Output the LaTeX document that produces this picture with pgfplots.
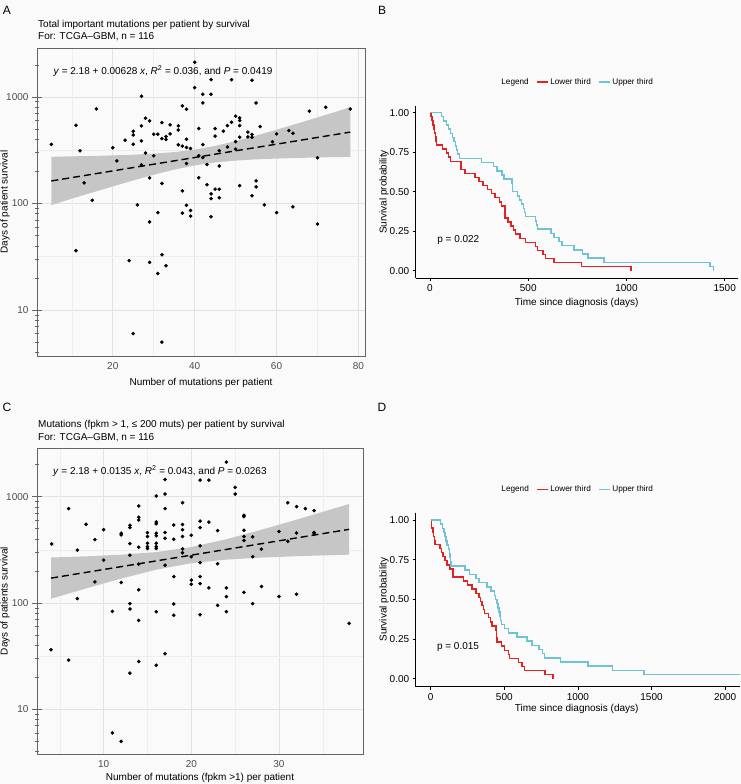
\documentclass[border=0pt]{standalone}
\usepackage{pgfplots}
\pgfplotsset{compat=1.18}
\usepackage{fontspec}
\setmainfont{Liberation Sans}
\definecolor{bgcol}{RGB}{250,250,250}
\definecolor{gridmaj}{RGB}{226,226,226}
\definecolor{gridmin}{RGB}{238,238,238}
\definecolor{boxcol}{RGB}{100,100,100}
\definecolor{ribcol}{RGB}{198,198,198}
\definecolor{kmred}{RGB}{226,34,34}
\definecolor{kmblue}{RGB}{110,194,212}
\definecolor{ticklab}{RGB}{77,77,77}
\newcommand{\fs}[1]{\fontsize{#1}{#1}\selectfont}
\begin{document}
\begin{tikzpicture}
\fill[bgcol] (0pt,0pt) rectangle (741pt,784pt);

% ---------------- Panel A ----------------
\begin{axis}[ymode=log, scale only axis, anchor=south west,
  at={(37pt,428pt)}, width=328pt, height=308pt,
  xmin=1.5, xmax=81.6, ymin=3.7, ymax=2880,
  axis background/.style={fill=bgcol},
  axis line style={draw=boxcol, line width=0.8pt},
  grid=major, major grid style={gridmaj, line width=0.6pt},
  xtick pos=left, ytick pos=left,
  /pgf/number format/assume math mode=true,
  tick label style={font=\fs{10}, text=ticklab},
  xtick style={draw=none},
  ytick style={boxcol, line width=0.6pt},
  tick align=center, major tick length=10pt, minor tick length=4pt,
  ytick={10,100,1000}, yticklabels={10,100,1000},
  minor ytick={4,5,6,7,8,9,20,30,40,50,60,70,80,90,200,300,400,500,600,700,800,900,2000},
  extra y ticks={3.1623,31.623,316.23}, extra y tick labels={},
  extra y tick style={grid=major, major grid style={gridmin, line width=0.5pt}, major tick length=0pt},
  xtick={20,40,60,80}, xticklabels={20,40,60,80},
  extra x ticks={10,30,50,70}, extra x tick labels={},
  extra x tick style={grid=major, major grid style={gridmin, line width=0.5pt}},
  xticklabel style={yshift=2pt}]
\addplot[fill=ribcol, draw=none] coordinates {
 (5,274) (10,277) (15,279) (20,282.6) (25,287) (30,293.5) (35,303.4) (40,320) (45,347) (50,385) (55,433.5) (60,492) (65,561.4) (70,642) (78,799)
 (78,273.7) (70,270.2) (65,267.4) (60,263.9) (55,259.3) (50,252.7) (45,242.5) (40,227.5) (35,207.7) (30,186) (25,164.5) (20,144.6) (15,126.6) (10,111) (5,96.4)};
\addplot[only marks, mark=*, mark size=1.6pt, black] coordinates {
(40,2115) (44,1453) (49,1453) (54,1433) (40,1223) (42,1059) (44,1059) (27,1015) (42,878) (55,878) (37,824) (38,766) (16,772) (68,735) (72,800) (78,772) (50,660) (51,636) (51,600) (28,631) (29,596) (11,542) (32,574) (34,547) (36,535) (27,535) (49,579) (48,538) (51,538) (56,527) (36,489) (41,505) (45,505) (47,477) (25,477) (30,447) (31,447) (34,450) (33,425) (32,406) (33,398) (25,440) (45,428) (51,419) (53,467) (54,444) (54,419) (53,422) (60,450) (63,483) (64,456) (38,401) (27,387) (23,393) (5,359) (36,355) (37,345) (38,335) (39,328) (42,357) (50,380) (59,379) (25,359) (48,339) (20,333) (12,312) (28,297) (50,324) (46,312) (30,280) (41,280) (42,270) (70,268) (21,251) (38,237) (43,232) (27,230) (46,225) (29,174) (41,174) (13,156) (32,154) (51,147) (55,163) (55,143) (43,150) (37,131)
(15,107) (44,123) (45,136) (46,136) (44,111) (46,113) (54,118) (26,97) (31,82) (38,96) (39,86) (37,81) (39,76) (44,75) (57,97) (60,82) (64,93) (70,64) (29,67) (11,36) (24,29) (29,28) (32,33) (33,26) (31,22) (25,6) (32,5)};
\addplot[black, line width=1.4pt, dash pattern=on 7pt off 4pt] coordinates {(5,162.7) (78,467.5)};
\end{axis}

% ---------------- Panel C ----------------
\begin{axis}[ymode=log, scale only axis, anchor=south west,
  at={(37pt,30pt)}, width=326.6pt, height=306pt,
  xmin=2.4, xmax=39.65, ymin=3.8, ymax=2870,
  axis background/.style={fill=bgcol},
  axis line style={draw=boxcol, line width=0.8pt},
  grid=major, major grid style={gridmaj, line width=0.6pt},
  xtick pos=left, ytick pos=left,
  /pgf/number format/assume math mode=true,
  tick label style={font=\fs{10}, text=ticklab},
  xtick style={draw=none},
  ytick style={boxcol, line width=0.6pt},
  tick align=center, major tick length=10pt, minor tick length=4pt,
  ytick={10,100,1000}, yticklabels={10,100,1000},
  minor ytick={4,5,6,7,8,9,20,30,40,50,60,70,80,90,200,300,400,500,600,700,800,900,2000},
  extra y ticks={3.1623,31.623,316.23}, extra y tick labels={},
  extra y tick style={grid=major, major grid style={gridmin, line width=0.5pt}, major tick length=0pt},
  xtick={10,20,30}, xticklabels={10,20,30},
  extra x ticks={5,15,25,35}, extra x tick labels={},
  extra x tick style={grid=major, major grid style={gridmin, line width=0.5pt}},
  xticklabel style={yshift=2pt}]
\addplot[fill=ribcol, draw=none] coordinates {
 (4,267.8) (8,274.8) (12,284.6) (16,301.2) (20,335.7) (24,397.9) (28,488.6) (32,608) (36,762) (38,854)
 (38,284.8) (36,281.9) (32,275.4) (28,267.4) (24,256.0) (20,236.7) (16,205.6) (12,169.8) (8,137.1) (4,109.7)};
\addplot[only marks, mark=*, mark size=1.6pt, black] coordinates {
(24,2115) (17,1453) (21,1433) (22,1433) (25,1223) (25,1059) (16,1015) (17,1059) (6,772) (14,817) (19,878) (17,772) (31,878) (32,806) (33,772) (34,739) (26,668) (26,649) (14,640) (14,603) (21,589) (22,577) (16,577) (16,555) (8,550) (18,542) (19,547) (13,538) (13,512) (21,512) (19,489) (23,480) (10,489) (26,483) (12,453) (12,437) (15,459) (15,422) (16,453) (16,428) (17,460) (19,422) (20,434) (17,406) (18,398) (30,470) (32,456) (31,380) (34,460) (34,447) (26,422) (26,387) (27,419) (9,395) (4.07,359) (13,362) (14,335) (15,365) (15,339) (15,325) (16,365) (16,339) (16,325) (21,345) (19,323) (19,297) (7,314) (28,321) (20,272) (27,272) (13,282) (10,253) (21,240) (23,234) (14,232) (17,227) (18,177) (21,177) (9,158) (12,156) (20,164) (20,150) (21,152) (14,133) (22,139) (24,139) (26,126) (28,143) (30,115) (32,121) (7,110) (24,115)
(13,98.6) (13,87.8) (11,83.4) (16,82.8) (18,98) (18,76.6) (14,68.6) (21,77.6) (23,95) (24,82.8) (27,98.6) (38,64.3) (4,36.3) (6,29) (17,33.3) (14,28.2) (16,26) (13,21.9) (11,6) (12,5)};
\addplot[black, line width=1.4pt, dash pattern=on 7pt off 4pt] coordinates {(4,171.4) (38,493)};
\end{axis}

% panel frames of A and C
\draw[boxcol, line width=0.8pt] (37pt,428pt) rectangle (365pt,736pt);
\draw[boxcol, line width=0.8pt] (37pt,30pt) rectangle (363.6pt,336pt);

% ---------------- Panel B ----------------
\begin{axis}[scale only axis, anchor=south west,
  at={(415.7pt,506pt)}, width=322.3pt, height=172pt,
  xmin=-72.7, xmax=1567.7, ymin=-0.046, ymax=1.042,
  axis lines=left, axis line style={-, black, line width=0.7pt},
  tick align=outside, major tick length=3pt,
  tick style={black, line width=0.7pt},
  /pgf/number format/assume math mode=true,
  tick label style={font=\fs{10}, text=black},
  ytick={0,0.25,0.5,0.75,1}, yticklabels={0.00,0.25,0.50,0.75,1.00},
  xtick={0,500,1000,1500}, xticklabels={0,500,1000,1500},
  legend columns=-1,
  legend style={draw=none, fill=none, font=\fs{8.2}, anchor=center,
    at={(rel axis cs:0.501,1.14)},
    /tikz/every even column/.append style={column sep=5pt}},
  legend image code/.code={\draw[#1] (0pt,0pt) -- (11pt,0pt);}]
\addlegendimage{legend image code/.code={}}
\addlegendentry{Legend}
\addplot[const plot, kmred, line width=1.5pt] coordinates {
(0,1.0) (5,0.974) (10,0.949) (15,0.923) (20,0.897) (24,0.872) (28,0.846) (31,0.821) (34,0.795) (64,0.769) (85,0.744) (95,0.718) (105,0.692) (158,0.641) (178,0.615) (229,0.590) (249,0.564) (271,0.538) (292,0.513) (312,0.487) (332,0.462) (353,0.436) (363,0.410) (383,0.333) (398,0.308) (412,0.282) (424,0.256) (434,0.231) (458,0.205) (486,0.179) (537,0.154) (547,0.128) (576,0.103) (588,0.077) (631,0.051) (770,0.026) (1024,0.026) (1024,0.0)};
\addlegendentry{Lower third}
\addplot[const plot, kmblue, line width=1.5pt] coordinates {
(0,1.0) (59,0.974) (69,0.947) (85,0.921) (95,0.895) (105,0.868) (115,0.842) (122,0.816) (129,0.789) (136,0.763) (141,0.737) (149,0.711) (263,0.684) (322,0.658) (341,0.632) (366,0.605) (376,0.579) (417,0.553) (420,0.5) (446,0.474) (456,0.447) (466,0.421) (476,0.395) (481,0.368) (486,0.342) (536,0.316) (541,0.289) (546,0.263) (615,0.237) (632,0.211) (656,0.184) (673,0.158) (734,0.132) (775,0.105) (805,0.079) (885,0.053) (1424,0.026) (1444,0.026) (1444,0.0)};
\addlegendentry{Upper third}
\end{axis}

% ---------------- Panel D ----------------
\begin{axis}[scale only axis, anchor=south west,
  at={(415.7pt,97.3pt)}, width=324.3pt, height=174pt,
  xmin=-101.9, xmax=2101, ymin=-0.05, ymax=1.046,
  axis lines=left, axis line style={-, black, line width=0.7pt},
  tick align=outside, major tick length=3pt,
  tick style={black, line width=0.7pt},
  /pgf/number format/assume math mode=true,
  tick label style={font=\fs{10}, text=black},
  ytick={0,0.25,0.5,0.75,1}, yticklabels={0.00,0.25,0.50,0.75,1.00},
  xtick={0,500,1000,1500,2000}, xticklabels={0,500,1000,1500,2000},
  legend columns=-1,
  legend style={draw=none, fill=none, font=\fs{8.2}, anchor=center,
    at={(rel axis cs:0.498,1.134)},
    /tikz/every even column/.append style={column sep=5pt}},
  legend image code/.code={\draw[#1] (0pt,0pt) -- (11pt,0pt);}]
\addlegendimage{legend image code/.code={}}
\addlegendentry{Legend}
\addplot[const plot, kmred, line width=1.5pt] coordinates {
(0,1.0) (5,0.974) (7,0.949) (14,0.923) (18,0.897) (25,0.872) (30,0.846) (64,0.821) (75,0.795) (84,0.769) (98,0.744) (109,0.718) (132,0.692) (150,0.641) (223,0.615) (250,0.590) (280,0.564) (309,0.538) (327,0.513) (338,0.487) (348,0.462) (358,0.436) (366,0.410) (393,0.385) (405,0.359) (416,0.333) (443,0.308) (447,0.282) (448,0.256) (450,0.231) (480,0.205) (500,0.179) (530,0.154) (536,0.128) (595,0.103) (620,0.077) (636,0.051) (775,0.026) (832,0.026) (832,0.0)};
\addlegendentry{Lower third}
\addplot[const plot, kmblue, line width=1.5pt] coordinates {
(0,1.0) (68,0.974) (80,0.947) (90,0.921) (98,0.895) (105,0.868) (112,0.842) (120,0.816) (126,0.789) (130,0.763) (133,0.737) (137,0.711) (234,0.684) (264,0.658) (309,0.632) (327,0.605) (382,0.579) (411,0.553) (434,0.526) (440,0.5) (450,0.474) (458,0.447) (464,0.421) (470,0.395) (475,0.368) (482,0.342) (500,0.316) (530,0.289) (586,0.263) (655,0.237) (689,0.211) (736,0.184) (760,0.158) (773,0.132) (882,0.105) (1068,0.079) (1234,0.053) (1450,0.026) (2110,0.026)};
\addlegendentry{Upper third}
\end{axis}

% ---------------- Texts ----------------
\node[font=\fs{12}] at (7pt,774pt) {A};
\node[font=\fs{12}] at (382pt,774pt) {B};
\node[font=\fs{12}] at (7pt,376.5pt) {C};
\node[font=\fs{12}] at (382pt,377pt) {D};

\node[anchor=west, font=\fs{10}, inner sep=0pt] at (38pt,759pt) {Total important mutations per patient by survival};
\node[anchor=west, font=\fs{10}, inner sep=0pt] at (38pt,747.3pt) {For: TCGA–GBM, n = 116};
\node[anchor=west, font=\fs{10}, inner sep=0pt] at (38pt,359pt) {Mutations (fpkm > 1, ≤ 200 muts) per patient by survival};
\node[anchor=west, font=\fs{10}, inner sep=0pt] at (38pt,346.7pt) {For: TCGA–GBM, n = 116};

\node[anchor=west, font=\fs{10}, inner sep=0pt] at (53.3pt,713pt) {\textit{y} = 2.18 + 0.00628 \textit{x}, \textit{R}\textsuperscript{2} = 0.036, and \textit{P} = 0.0419};
\node[anchor=west, font=\fs{10}, inner sep=0pt] at (53pt,313pt) {\textit{y} = 2.18 + 0.0135 \textit{x}, \textit{R}\textsuperscript{2} = 0.043, and \textit{P} = 0.0263};

\node[rotate=90, font=\fs{10}] at (5pt,582pt) {Days of patient survival};
\node[rotate=90, font=\fs{10}] at (5pt,183pt) {Days of patients survival};
\node[font=\fs{10}] at (201pt,400.7pt) {Number of mutations per patient};
\node[font=\fs{10}] at (200pt,5.7pt) {Number of mutations (fpkm >1) per patient};

\node[font=\fs{10}] at (458.3pt,544pt) {p = 0.022};
\node[font=\fs{10}] at (458pt,136.7pt) {p = 0.015};
\node[rotate=90, font=\fs{10}] at (384pt,592pt) {Survival probability};
\node[rotate=90, font=\fs{10}] at (384pt,184.3pt) {Survival probability};
\node[font=\fs{10}] at (576.7pt,481.3pt) {Time since diagnosis (days)};
\node[font=\fs{10}] at (576.7pt,74.7pt) {Time since diagnosis (days)};

\pgfresetboundingbox
\useasboundingbox (0pt,0pt) rectangle (741pt,784pt);
\end{tikzpicture}
\end{document}
